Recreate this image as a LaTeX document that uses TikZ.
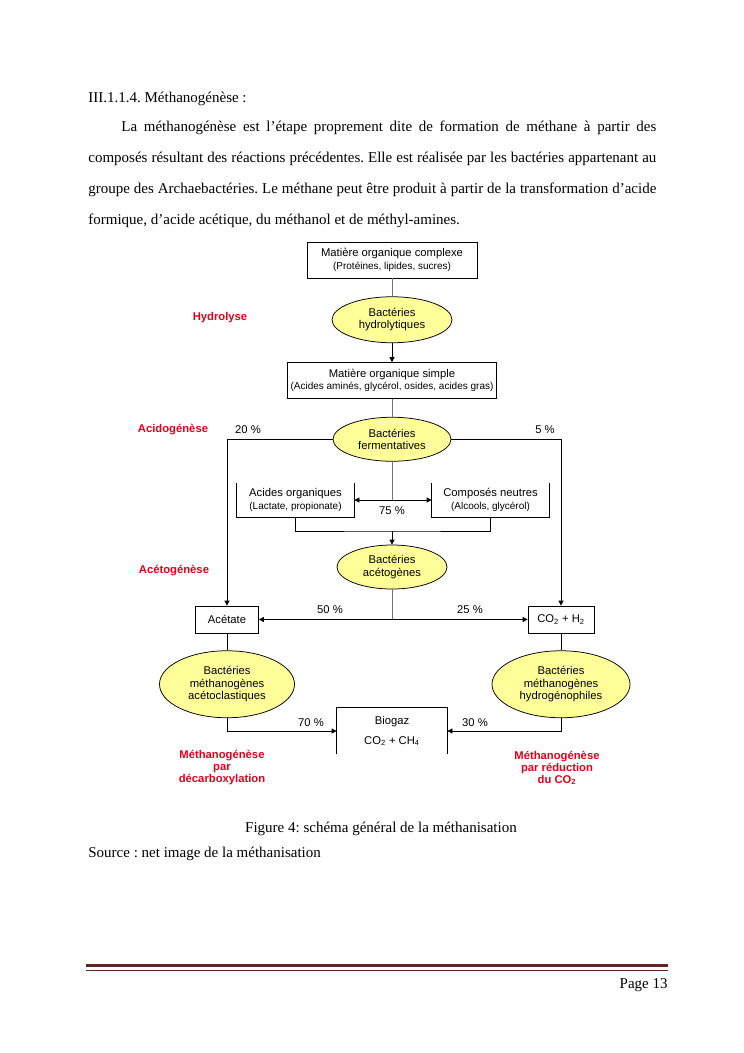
\documentclass[tikz,border=0pt]{standalone}
\usepackage{fontspec}
\setmainfont{Liberation Serif}
\newfontfamily\diafont{Liberation Sans}
\usetikzlibrary{arrows.meta,positioning,shapes.geometric}
\frenchspacing

\definecolor{bactyellow}{RGB}{255,255,153}
\definecolor{stagered}{RGB}{226,0,26}
\definecolor{footerred}{RGB}{98,36,35}
\newcommand{\detail}[1]{{\fontsize{8}{9}\selectfont #1}}

\begin{document}
\begin{tikzpicture}[
    x=0.8pt, y=-0.8pt,
    line width=0.6pt,
    every node/.style={font=\diafont\fontsize{9}{10}\selectfont},
    box/.style={draw, align=center, inner sep=1pt},
    openbox/.style={align=center, inner sep=1pt},
    bact/.style={draw, ellipse, fill=bactyellow, align=center, inner sep=0pt},
    stage/.style={text=stagered, align=center, font=\diafont\bfseries\fontsize{9}{9.6}\selectfont},
    pct/.style={inner sep=0pt},
    body/.style={inner sep=0pt, anchor=base west, font=\rmfamily\fontsize{12}{14}\selectfont},
    link/.style={draw=black!55},
    flow/.style={-{Triangle[length=4pt, width=4pt]}},
    twoway/.style={{Triangle[length=4pt, width=4pt]}-{Triangle[length=4pt, width=4pt]}}
]
\useasboundingbox (0,0) rectangle (744,1053);

% text above the figure
\node[body] (title) at (88,102) {III.1.1.4. Méthanogénèse :};
\node[body] (line1) at (121,131) {\makebox[428pt][s]{La méthanogénèse est l’étape proprement dite de formation de méthane à partir des}};
\node[body] (line2) at (88,162) {\makebox[454.4pt][s]{composés résultant des réactions précédentes. Elle est réalisée par les bactéries appartenant au}};
\node[body] (line3) at (88,193) {\makebox[454.4pt][s]{groupe des Archaebactéries. Le méthane peut être produit à partir de la transformation d’acide}};
\node[body] (line4) at (88,224) {formique, d’acide acétique, du méthanol et de méthyl-amines.};

% central column
\node[box, minimum width=136pt, minimum height=28.8pt] (cplx) at (392,260) {Matière organique complexe\\\detail{(Protéines, lipides, sucres)}};
\node[bact, minimum width=96pt, minimum height=36.8pt, below=14.4pt of cplx] (hydro) {Bactéries\\hydrolytiques};
\node[box, minimum width=167.2pt, minimum height=28.8pt, below=15.2pt of hydro] (simple) {Matière organique simple\\\detail{(Acides aminés, glycérol, osides, acides gras)}};
\node[bact, minimum width=94.4pt, minimum height=35.2pt, below=14.4pt of simple] (ferm) {Bactéries\\fermentatives};
\node[openbox, minimum width=93.6pt, minimum height=27.2pt] (acides) at (295.5,500) {Acides organiques\\\detail{(Lactate, propionate)}};
\node[openbox, minimum width=93.6pt, minimum height=27.2pt] (neutres) at (490.5,500) {Composés neutres\\\detail{(Alcools, glycérol)}};
\node[bact, minimum width=88pt, minimum height=35.2pt] (aceto) at (392,567) {Bactéries\\acétogènes};

% side branches
\node[box, minimum width=50.4pt, minimum height=21.6pt] (acetate) at (227,619.5) {Acétate};
\node[box, minimum width=52.8pt, minimum height=21.6pt] (coh) at (561,619.5) {CO\textsubscript{2} + H\textsubscript{2}};
\node[bact, minimum width=108pt, minimum height=53.6pt, below=13.6pt of acetate] (aclast) {Bactéries\\méthanogènes\\acétoclastiques};
\node[bact, minimum width=110.4pt, minimum height=53.6pt, below=13.6pt of coh] (hydrog) {Bactéries\\méthanogènes\\hydrogénophiles};
\node[openbox, minimum width=88pt, minimum height=36.8pt] (biogaz) at (392,731) {Biogaz\\[6pt]CO\textsubscript{2} + CH\textsubscript{4}};

% stages
\node[stage] (hydrolyse) at (220,318) {Hydrolyse};
\node[stage] (acido) at (173,430) {Acidogénèse};
\node[stage] (acetogen) at (174,571) {Acétogénèse};
\node[stage] (decarb) at (222,768) {Méthanogénèse\\par\\décarboxylation};
\node[stage] (reduc) at (557,768) {Méthanogénèse\\par réduction\\du CO\textsubscript{2}};

% shares
\node[pct] (p20) at (248,430) {20 \%};
\node[pct] (p5) at (545,430) {5 \%};
\node[pct] (p75) at (392,511) {75 \%};
\node[pct] (p50) at (330,610) {50 \%};
\node[pct] (p25) at (470,610) {25 \%};
\node[pct] (p70) at (311,723) {70 \%};
\node[pct] (p30) at (475,723) {30 \%};

% open boxes
\draw (acides.north west) -- (acides.south west) -- (acides.south east) -- (acides.north east);
\draw (neutres.north west) -- (neutres.south west) -- (neutres.south east) -- (neutres.north east);
\draw (biogaz.south west) -- (biogaz.north west) -- (biogaz.north east) -- (biogaz.south east);

% connectors
\coordinate (merge) at (392,531);
\draw[link] (cplx) -- (hydro);
\draw[flow] (hydro) -- (simple);
\draw[link] (simple) -- (ferm);
\draw[flow] (ferm.west) -| (acetate.north);
\draw[flow] (ferm.east) -| (coh.north);
\draw[link] (ferm.south) -- (ferm.south |- acides.east);
\draw[twoway] (acides.east) -- (neutres.west);
\draw (acides.south) |- (merge) -| (neutres.south);
\draw[flow] (merge) -- (aceto.north);
\draw[link] (aceto.south) -- (aceto.south |- acetate.east);
\draw[twoway] (acetate.east) -- (coh.west);
\draw (acetate) -- (aclast);
\draw (coh) -- (hydrog);
\draw[flow] (aclast.south) |- (biogaz.west);
\draw[flow] (hydrog.south) |- (biogaz.east);

% caption and footer
\node[body, anchor=base] (caption) at (381,832) {Figure 4: schéma général de la méthanisation};
\node[body] (source) at (88,857) {Source : net image de la méthanisation};
\draw[footerred, line width=2.4pt] (86,965.5) -- (668,965.5);
\draw[footerred, line width=0.6pt] (86,970) -- (668,970);
\node[body, anchor=base east] (page) at (668,988) {Page 13};
\end{tikzpicture}
\end{document}
